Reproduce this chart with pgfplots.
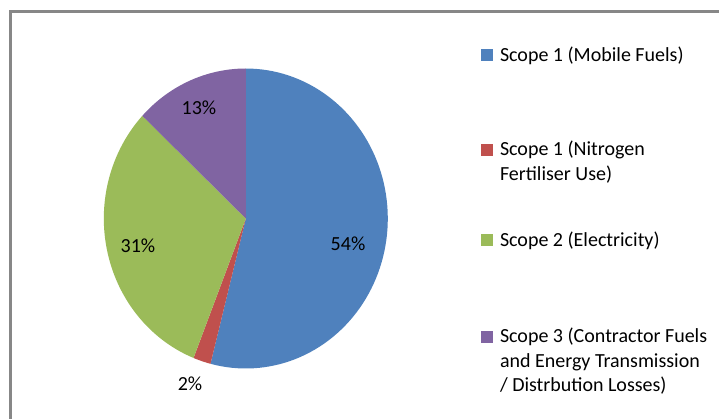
\documentclass[border=0pt]{standalone}
\usepackage{fontspec}
\setmainfont{Carlito}
\usepackage{pgfplots}
\usepackage{pgfplotstable}
\pgfplotsset{compat=1.18}
\definecolor{cBlue}{HTML}{4F81BD}
\definecolor{cRed}{HTML}{C0504D}
\definecolor{cGreen}{HTML}{9BBB59}
\definecolor{cPurple}{HTML}{8064A2}
\definecolor{cBorder}{HTML}{878787}
\pgfplotstableread{
idx value
0 54
1 2
2 31
3 13
}\piedata
\pgfplotstablegetelem{0}{value}\of\piedata\let\va\pgfplotsretval
\pgfplotstablegetelem{1}{value}\of\piedata\let\vb\pgfplotsretval
\pgfplotstablegetelem{2}{value}\of\piedata\let\vc\pgfplotsretval
\pgfplotstablegetelem{3}{value}\of\piedata\let\vd\pgfplotsretval
\pgfmathsetmacro\aA{90}
\pgfmathsetmacro\aB{\aA-3.6*\va}
\pgfmathsetmacro\aC{\aB-3.6*\vb}
\pgfmathsetmacro\aD{\aC-3.6*\vc}
\pgfmathsetmacro\aE{\aD-3.6*\vd}
\def\cx{245.8}\def\cy{218.5}\def\rx{142}\def\ry{150}
\newcommand\legstrut{\rule{0pt}{15pt}}
\pgfplotsset{
  base/.style={
    hide axis, scale only axis, width=719pt, height=419pt,
    xmin=0, xmax=719, ymin=0, ymax=419, y dir=reverse,
    clip=false,
    legend image code/.code={\fill[##1] (0pt,0pt) rectangle (12pt,12pt);},
    legend style={anchor=north west, draw=none, fill=none,
      inner sep=0pt, outer sep=0pt, row sep=0pt, column sep=5pt,
      font=\fontsize{20}{24.5}\selectfont,
      cells={anchor=base west, inner sep=0pt}},
  },
}
\begin{document}%
\begin{tikzpicture}[font=\fontsize{20}{24.5}\selectfont]
\begin{axis}[base, legend style={at={(axis cs:481,44.3)}}]
\addplot[fill=cBlue, draw=none, domain=\aB:\aA, samples=90, variable=\t, forget plot]
  ({\cx+\rx*cos(\t)},{\cy-\ry*sin(\t)}) -- (axis cs:\cx,\cy) -- cycle;
\addplot[fill=cRed, draw=none, domain=\aC:\aB, samples=10, variable=\t, forget plot]
  ({\cx+\rx*cos(\t)},{\cy-\ry*sin(\t)}) -- (axis cs:\cx,\cy) -- cycle;
\addplot[fill=cGreen, draw=none, domain=\aD:\aC, samples=60, variable=\t, forget plot]
  ({\cx+\rx*cos(\t)},{\cy-\ry*sin(\t)}) -- (axis cs:\cx,\cy) -- cycle;
\addplot[fill=cPurple, draw=none, domain=\aE:\aD, samples=30, variable=\t, forget plot]
  ({\cx+\rx*cos(\t)},{\cy-\ry*sin(\t)}) -- (axis cs:\cx,\cy) -- cycle;
\addlegendimage{fill=cBlue, draw=none}
\addlegendentry{\legstrut Scope 1 (Mobile Fuels)}
\node at (axis cs:348,244) {54\%};
\node at (axis cs:199,108) {13\%};
\node at (axis cs:138,246) {31\%};
\node at (axis cs:190,384) {2\%};
\draw[cBorder, line width=2.4pt] (axis cs:10.3,419) -- (axis cs:10.3,11.5) -- (axis cs:719,11.5);
\end{axis}
\begin{axis}[base, legend style={at={(axis cs:481,136.5)}}]
\addlegendimage{fill=cRed, draw=none}
\addlegendentry{\legstrut{\begin{tabular}[t]{@{}l@{}}Scope 1 (Nitrogen\\Fertiliser Use)\end{tabular}}}
\end{axis}
\begin{axis}[base, legend style={at={(axis cs:481,229.5)}}]
\addlegendimage{fill=cGreen, draw=none}
\addlegendentry{\legstrut Scope 2 (Electricity)}
\end{axis}
\begin{axis}[base, legend style={at={(axis cs:481,323.5)}}]
\addlegendimage{fill=cPurple, draw=none}
\addlegendentry{\legstrut{\begin{tabular}[t]{@{}l@{}}Scope 3 (Contractor Fuels\\and Energy Transmission\\/ Distrbution Losses)\end{tabular}}}
\end{axis}
\pgfresetboundingbox
\path (current axis.south west) rectangle (current axis.north east);
\end{tikzpicture}%
\end{document}
